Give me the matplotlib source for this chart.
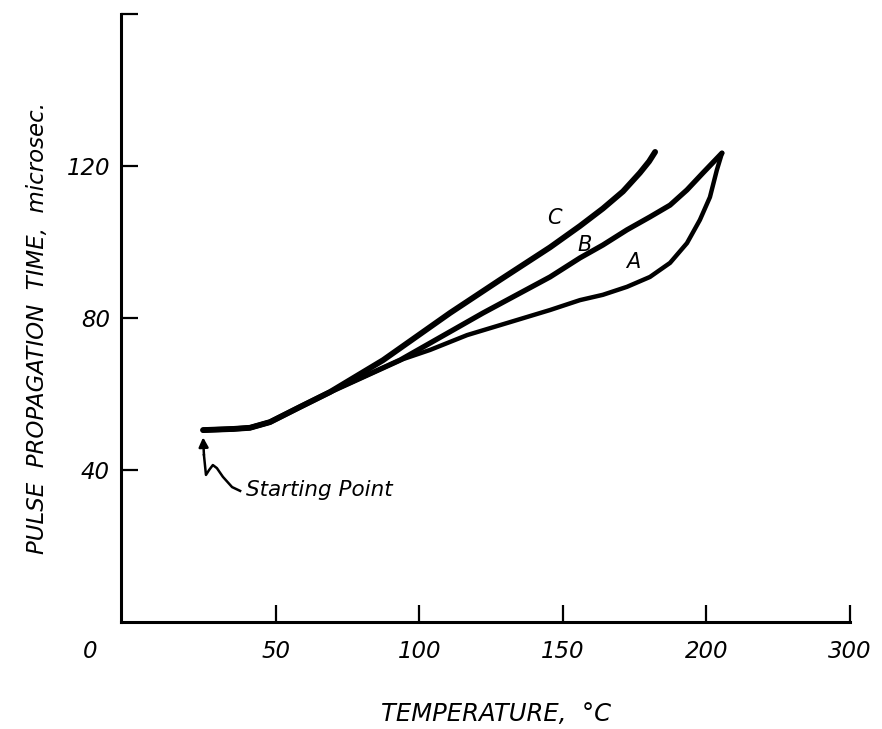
import matplotlib
matplotlib.use('Agg')
import matplotlib.pyplot as plt

plt.rcParams['font.family'] = ['DejaVu Sans']

# flat starting part shared by all curves
start_x = [24.6, 35.1, 40.9, 47.9, 58.4, 68.8]
start_y = [50.5, 50.8, 51.1, 52.6, 56.6, 60.5]

# curve C (upper)
c_x = [87.3, 110.6, 128.0, 145.5, 155.9, 163.9, 170.9, 176.8, 180.0, 182.1]
c_y = [68.9, 81.3, 90.0, 98.6, 104.2, 108.8, 113.3, 118.2, 121.2, 123.7]

# curve B (middle)
b_x = [93.2, 122.1, 145.5, 155.9, 163.9, 172.3, 180.3, 187.3, 193.2, 198.8, 205.4]
b_y = [68.9, 81.3, 90.8, 95.8, 99.2, 103.2, 106.6, 109.7, 113.7, 118.2, 123.4]

# curve A (lower), from the trunk to the peak
a_x = [93.2, 103.7, 116.6, 131.5, 145.5, 155.9, 163.9, 172.3, 180.3, 187.3,
       193.2, 197.7, 201.2, 203.6, 205.4]
a_y = [68.9, 71.6, 75.5, 78.9, 82.1, 84.7, 86.1, 88.2, 90.8, 94.5,
       99.7, 105.8, 111.8, 118.9, 123.4]

# leader from "Starting Point" to the start of the curves
lead_x = [37.5, 34.7, 31.5, 29.4, 28.0, 26.7, 25.6, 24.9]
lead_y = [34.5, 35.5, 38.2, 40.5, 41.3, 40.0, 38.7, 43.9]

x_ticks = [50, 100, 150, 200, 250]
x_labels = ['50', '100', '150', '200', '300']
y_ticks = [40, 80, 120, 160]
y_labels = ['40', '80', '120', '']

fig = plt.figure(figsize=(8.82, 7.29), dpi=100)
ax = fig.add_axes([0.1372, 0.1468, 0.8265, 0.834])

style = dict(color='black', solid_capstyle='round', solid_joinstyle='round')
ax.plot(start_x + c_x, start_y + c_y, lw=4.2, **style)
ax.plot(start_x + b_x, start_y + b_y, lw=3.8, **style)
ax.plot(start_x + a_x, start_y + a_y, lw=3.2, **style)

ax.plot(lead_x, lead_y, color='black', lw=1.8, solid_joinstyle='round')
ax.annotate('', xy=(24.6, 48.6), xytext=(24.9, 43.9),
            arrowprops=dict(arrowstyle='-|>', color='black', lw=1.8,
                            mutation_scale=14, shrinkA=0, shrinkB=0))
ax.text(39.5, 34.7, 'Starting Point', fontsize=15.5, style='italic',
        ha='left', va='center')

ax.text(147.0, 106.3, 'C', fontsize=15, style='italic', ha='center', va='center')
ax.text(157.7, 99.2, 'B', fontsize=15, style='italic', ha='center', va='center')
ax.text(174.4, 94.7, 'A', fontsize=15, style='italic', ha='center', va='center')

ax.set_xlim(-4, 250)
ax.set_ylim(0, 160)
ax.set_xticks(x_ticks)
ax.set_xticklabels(x_labels, fontsize=16.5, style='italic')
ax.set_yticks(y_ticks)
ax.set_yticklabels(y_labels, fontsize=16.5, style='italic')
ax.tick_params(direction='in', length=12, width=1.6)
ax.tick_params(axis='x', pad=13)
ax.tick_params(axis='y', pad=8)

ax.annotate('0', xy=(-14.8, 0), xycoords=('data', 'axes fraction'),
            xytext=(0, -13), textcoords='offset points',
            ha='center', va='top', fontsize=16.5, style='italic')

for side in ['top', 'right']:
    ax.spines[side].set_visible(False)
for side in ['left', 'bottom']:
    ax.spines[side].set_linewidth(2.2)

fig.text(0.562, 0.02, 'TEMPERATURE,  °C', fontsize=17.5, style='italic',
         ha='center', va='center')
fig.text(0.042, 0.55, 'PULSE  PROPAGATION  TIME,  microsec.', fontsize=16.5,
         style='italic', rotation=90, ha='center', va='center')

fig.savefig('out.png', dpi=100)
